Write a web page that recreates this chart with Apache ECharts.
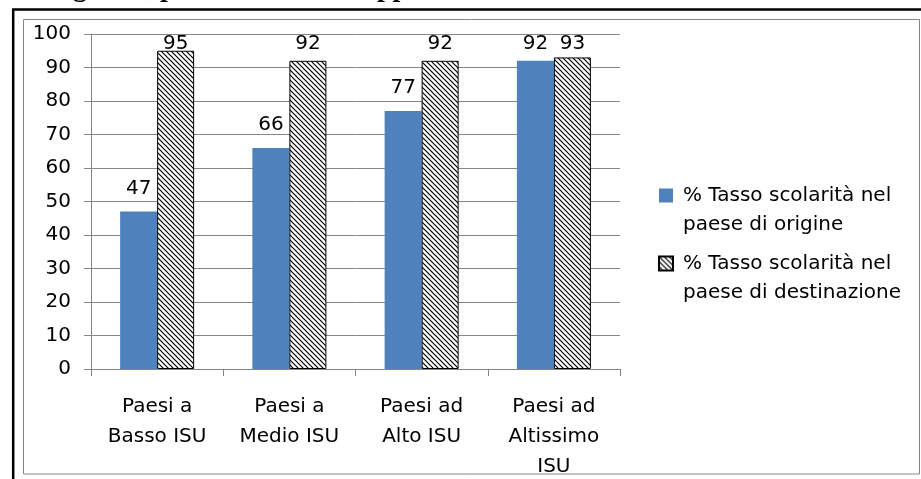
<!DOCTYPE html>
<html>
<head>
<meta charset="utf-8">
<script src="https://cdn.jsdelivr.net/npm/echarts@6/dist/echarts.min.js"></script>
<style>
  html, body { margin: 0; padding: 0; background: #fff; }
  #chart { width: 921px; height: 479px; }
</style>
</head>
<body>
<div id="chart"></div>
<script>
// Categorie (gruppi di paesi per Indice di Sviluppo Umano)
const categories = [
  'Paesi a\nBasso ISU',
  'Paesi a\nMedio ISU',
  'Paesi ad\nAlto ISU',
  'Paesi ad\nAltissimo\nISU'
];
// Tasso di scolarità (%)
const origine = [47, 66, 77, 92];
const destinazione = [95, 92, 92, 93];
const seriesNames = [
  '% Tasso scolarità nel\npaese di origine',
  '% Tasso scolarità nel\npaese di destinazione'
];
const yTicks = { min: 0, max: 100, interval: 10 };

const FONT = '"DejaVu Sans", sans-serif';
const GRID_TOP = 34;

// Tratteggio diagonale nero su bianco per la seconda serie
function hatchPattern() {
  const s = 5;
  const c = document.createElement('canvas');
  c.width = s; c.height = s;
  const g = c.getContext('2d');
  g.fillStyle = '#fff';
  g.fillRect(0, 0, s, s);
  g.strokeStyle = '#000';
  g.lineWidth = 1.2;
  g.beginPath();
  g.moveTo(-1, -1); g.lineTo(s + 1, s + 1);
  g.moveTo(-1, s - 1); g.lineTo(1, s + 1);
  g.moveTo(s - 1, -1); g.lineTo(s + 1, 1);
  g.stroke();
  return c;
}
const hatch = { image: hatchPattern(), repeat: 'repeat' };

const chart = echarts.init(document.getElementById('chart'), null, { renderer: 'canvas' });

const labelStyle = {
  show: true,
  position: 'top',
  distance: 13,
  color: '#000',
  fontFamily: FONT,
  fontSize: 20
};

// Le etichette troppo alte vengono tenute dentro l'area del grafico
function keepInside(params) {
  const r = params.labelRect;
  const minBottom = GRID_TOP + 20;
  if (r.y + r.height < minBottom) {
    return { y: minBottom, verticalAlign: 'bottom', align: 'center', x: r.x + r.width / 2 };
  }
}

chart.setOption({
  backgroundColor: '#fff',
  animation: false,
  grid: {
    left: 91, right: 301, top: GRID_TOP, bottom: 110,
    containLabel: false,
    outerBoundsMode: 'none'
  },
  legend: {
    orient: 'vertical',
    left: 658,
    top: 152,
    padding: 0,
    itemWidth: 14,
    itemHeight: 14,
    itemGap: -19,
    icon: 'rect',
    selectedMode: false,
    formatter: function (name) { return ' \n' + name; },
    textStyle: {
      fontFamily: FONT,
      fontSize: 20,
      color: '#000',
      lineHeight: 29,
      padding: [0, 0, 0, 5]
    },
    data: seriesNames
  },
  xAxis: {
    type: 'category',
    data: categories,
    axisLine: { lineStyle: { color: '#868686', width: 1 } },
    axisTick: { show: true, length: 7, interval: 0, lineStyle: { color: '#868686' } },
    axisLabel: {
      interval: 0,
      margin: 23,
      color: '#000',
      fontFamily: FONT,
      fontSize: 20,
      lineHeight: 30
    }
  },
  yAxis: {
    type: 'value',
    min: yTicks.min,
    max: yTicks.max,
    interval: yTicks.interval,
    axisLine: { show: true, lineStyle: { color: '#868686', width: 1 } },
    axisTick: { show: true, length: 7, lineStyle: { color: '#868686' } },
    splitLine: { show: true, lineStyle: { color: '#868686', width: 1 } },
    axisLabel: {
      margin: 20,
      color: '#000',
      fontFamily: FONT,
      fontSize: 20
    }
  },
  series: [
    {
      name: seriesNames[0],
      type: 'bar',
      data: origine,
      barWidth: 37,
      barGap: '0%',
      itemStyle: { color: '#4F81BD' },
      label: labelStyle,
      labelLayout: keepInside
    },
    {
      name: seriesNames[1],
      type: 'bar',
      data: destinazione,
      barWidth: 37,
      barGap: '0%',
      itemStyle: { color: hatch, borderColor: '#000', borderWidth: 1 },
      label: labelStyle,
      labelLayout: keepInside
    }
  ],
  graphic: [
    {
      type: 'text',
      left: -1,
      top: -25,
      z: 10,
      style: {
        text: 'dei migranti, per indice di Sviluppo Umano',
        font: 'bold 28px "Liberation Serif", serif',
        fill: '#000'
      }
    },
    {
      type: 'rect',
      z: 10,
      shape: { x: 23.5, y: 19.5, width: 896, height: 454.5 },
      style: { fill: 'none', stroke: '#868686', lineWidth: 1 }
    },
    {
      type: 'line',
      z: 11,
      shape: { x1: 12, y1: 9.5, x2: 921, y2: 9.5 },
      style: { stroke: '#000', lineWidth: 2.5 }
    },
    {
      type: 'line',
      z: 11,
      shape: { x1: 13.2, y1: 9, x2: 13.2, y2: 479 },
      style: { stroke: '#000', lineWidth: 2.5 }
    }
  ]
});
</script>
</body>
</html>
